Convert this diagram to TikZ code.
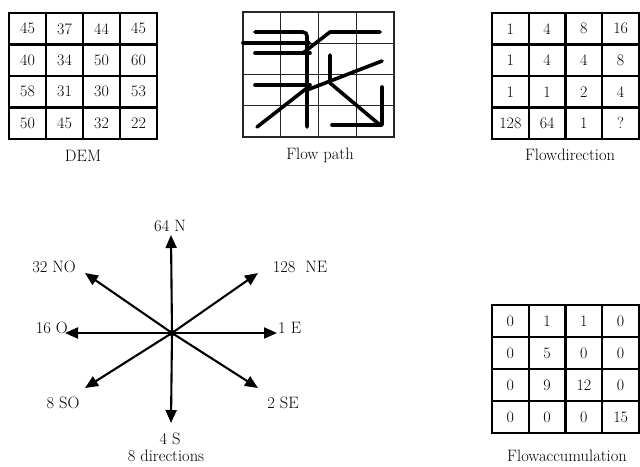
\documentclass[tikz,border=0pt]{standalone}
\usetikzlibrary{arrows.meta}
\begin{document}
\begin{tikzpicture}[x=1pt,y=-1pt,
  gridline/.style={line width=2.2pt, black},
  thingrid/.style={line width=1.4pt, black!85},
  flowline/.style={line width=3.6pt, line cap=round, line join=round},
  cell/.style={font=\fontsize{16}{18}\selectfont, inner sep=0pt},
  lbl/.style={font=\fontsize{16.5}{18}\selectfont, inner sep=0pt},
  dirarrow/.style={line width=2.1pt, -{Triangle[length=13pt,width=11pt]}},
]
\useasboundingbox (0,0) rectangle (640,466);

% ---------- DEM ----------
\foreach \i in {1,2,3} {
  \draw[gridline] (9+\i*37,13) -- (9+\i*37,139);
  \draw[gridline] (9,13+\i*31.5) -- (157,13+\i*31.5);
}
\draw[gridline] (9,13) rectangle (157,139);
\foreach \row [count=\r from 0] in {{45,37,44,45},{40,34,50,60},{58,31,30,53},{50,45,32,22}} {
  \foreach \v [count=\c from 0] in \row {
    \node[cell] (dem-\r-\c) at (27.5+37*\c, 28.75+31.5*\r) {\v};
  }
}
\node[lbl] (demlbl) at (83,156) {DEM};

% ---------- Flow path ----------
\foreach \i in {1,2,3} {
  \draw[thingrid] (243+\i*37.75,12) -- (243+\i*37.75,137);
  \draw[thingrid] (243,12+\i*31.25) -- (394,12+\i*31.25);
}
\draw[thingrid] (243,12) rectangle (394,137);
\draw[flowline, rounded corners=4pt] (255,32) -- (307,32) -- (307,127);
\draw[flowline] (243,43) -- (309,43);
\draw[flowline] (255,53) -- (310,53);
\draw[flowline] (255,85) -- (310,85);
\draw[flowline] (303,53) -- (330,32) -- (380,32);
\draw[flowline] (330,55) -- (330,83) -- (380,125);
\draw[flowline] (332,125) -- (382,125) -- (382,87);
\draw[flowline] (257,127) -- (307,88);
\draw[flowline] (382,61) -- (307,90);
\node[lbl] (fplbl) at (320,155) {Flow path};

% ---------- Flow direction ----------
\foreach \i in {1,2,3} {
  \draw[gridline] (492+\i*36.75,13) -- (492+\i*36.75,139);
  \draw[gridline] (492,13+\i*31.5) -- (639,13+\i*31.5);
}
\draw[gridline] (492,13) rectangle (639,139);
\foreach \row [count=\r from 0] in {{1,4,8,16},{1,4,4,8},{1,1,2,4},{128,64,1,?}} {
  \foreach \v [count=\c from 0] in \row {
    \node[cell] (fd-\r-\c) at (510.375+36.75*\c, 28.75+31.5*\r) {\v};
  }
}
\node[lbl] (fdlbl) at (570,155) {Flowdirection};

% ---------- Flow accumulation ----------
\foreach \i in {1,2,3} {
  \draw[gridline] (492+\i*36.75,305) -- (492+\i*36.75,433);
  \draw[gridline] (492,305+\i*32) -- (639,305+\i*32);
}
\draw[gridline] (492,305) rectangle (639,433);
\foreach \row [count=\r from 0] in {{0,1,1,0},{0,5,0,0},{0,9,12,0},{0,0,0,15}} {
  \foreach \v [count=\c from 0] in \row {
    \node[cell] (fa-\r-\c) at (510.375+36.75*\c, 321+32*\r) {\v};
  }
}
\node[lbl] (falbl) at (567,456) {Flowaccumulation};

% ---------- 8 directions ----------
\coordinate (c) at (172,333);
\coordinate (tN) at (171,235);
\coordinate (tS) at (171,423);
\coordinate (tE) at (277,333);
\coordinate (tW) at (65,333);
\coordinate (tNE) at (258,273);
\coordinate (tNW) at (85,273);
\coordinate (tSE) at (258,388);
\coordinate (tSW) at (85,388);
\foreach \t in {tN,tS,tE,tW,tNE,tNW,tSE,tSW} {
  \draw[dirarrow] (c) -- (\t);
}
\fill (c) circle (3.2pt);
\node[lbl] (lN) at (170,226) {64 N};
\node[lbl] (lNW) at (54,267) {32 NO};
\node[lbl] (lNE) at (300,267) {128~~NE};
\node[lbl, anchor=east] (lW) at (68,328) {16 O};
\node[lbl, anchor=west] (lE) at (278,328) {1 E};
\node[lbl] (lSW) at (63,403) {8 SO};
\node[lbl] (lSE) at (283,403) {2 SE};
\node[lbl] (lS) at (170,439) {4 S};
\node[lbl] (l8) at (166,456) {8 directions};
\end{tikzpicture}
\end{document}
